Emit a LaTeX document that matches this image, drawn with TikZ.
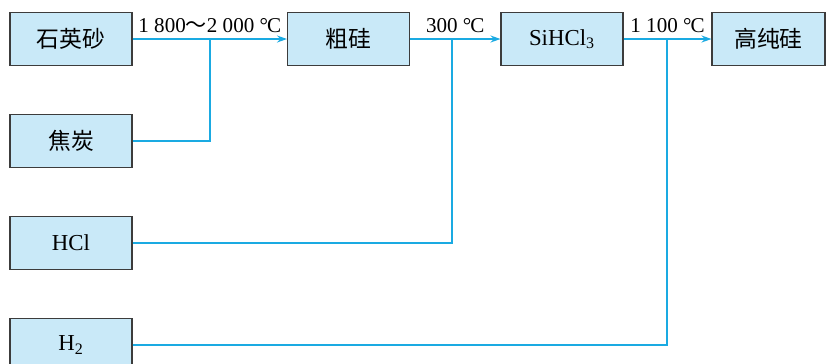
\documentclass[tikz,border=0pt]{standalone}
\usepackage{fontspec}
\setmainfont{Liberation Serif}
\newfontfamily\cjk{Noto Sans CJK SC}
\usetikzlibrary{arrows.meta, calc, positioning}

\definecolor{boxfill}{HTML}{C9E9F8}
\definecolor{flowline}{HTML}{1AAAE2}
\definecolor{boxline}{HTML}{3C3C3C}

\newcommand{\degc}{°\kern-0.05em C}

\begin{document}
\begin{tikzpicture}[
    x=0.02cm, y=-0.02cm,
    node distance=0.96cm and 3.12cm,
    stage/.style={
        draw=boxline,
        fill=boxfill,
        line width=0.6pt,
        minimum width=2.44cm,
        minimum height=1.06cm,
        inner sep=0pt,
        font=\fontsize{13}{15}\selectfont
    },
    temp/.style={above, inner sep=3pt, font=\fontsize{12}{14}\selectfont},
    feed/.style={draw=flowline, line width=1pt},
    flow/.style={feed, -{Stealth[length=2mm, width=1.4mm]}}
]

\useasboundingbox (0,0) rectangle (826,363);

% Main route
\node[stage] (sand) at (71,39) {\cjk 石英砂};
\node[stage] (crude) at (348.5,39) {\cjk 粗硅};
\node[stage] (chloro) at (562,39) {SiHCl\textsubscript{3}};
\node[stage, minimum width=2.26cm] (pure) at (768.5,39) {\cjk 高纯硅};

% Raw materials
\node[stage] (coke) [below=of sand] {\cjk 焦炭};
\node[stage] (hcl) [below=of coke] {HCl};
\node[stage] (hydrogen) [below=of hcl] {H\textsubscript{2}};

% Joints on the main route
\coordinate (j1) at (210,39);
\coordinate (j2) at (452,39);
\coordinate (j3) at (667,39);

% Edges
\draw[flow] (sand) -- node[temp] {1 800{\cjk ～}2 000 \degc} (crude);
\draw[flow] (crude) -- node[temp] {300 \degc} (chloro);
\draw[flow] (chloro) -- node[temp] {1 100 \degc} (pure);
\draw[feed] (coke) -| (j1);
\draw[feed] (hcl) -| (j2);
\draw[feed] (hydrogen) -| (j3);

\end{tikzpicture}
\end{document}
